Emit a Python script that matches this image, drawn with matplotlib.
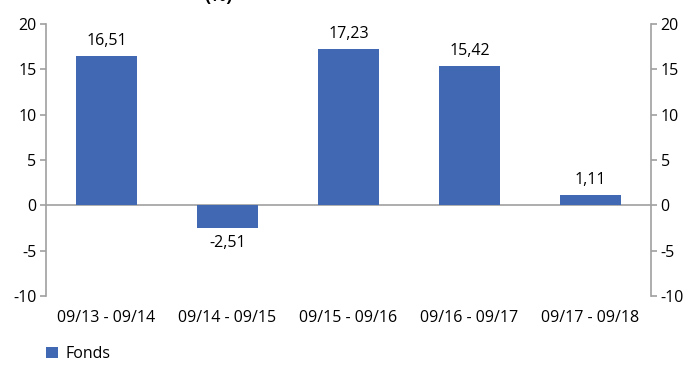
import numpy as np
import matplotlib.pyplot as plt

periods = ["09/13 - 09/14", "09/14 - 09/15", "09/15 - 09/16", "09/16 - 09/17", "09/17 - 09/18"]
fonds = [16.51, -2.51, 17.23, 15.42, 1.11]
yticks = [-10, -5, 0, 5, 10, 15, 20]

plt.rcParams['font.family'] = ['Open Sans', 'DejaVu Sans']
plt.rcParams['axes.unicode_minus'] = False
blue = "#4169b3"
grey = "#a0a0a0"
fs = 11.5

fig = plt.figure(figsize=(6.9, 3.65), dpi=100)
ax = fig.add_axes([0.0667, 0.189, 0.8768, 0.745])

x = np.arange(len(periods))
bars = ax.bar(x, fonds, width=0.5, color=blue, label="Fonds", zorder=3)
ax.axhline(0, color=grey, lw=1.2, zorder=2)

for xi, v in zip(x, fonds):
    txt = f"{v:.2f}".replace(".", ",")
    off = 5 if v >= 0 else -5
    ax.annotate(txt, (xi, v), xytext=(0, off), textcoords="offset points",
                ha="center", va="bottom" if v >= 0 else "top", fontsize=fs)

ax.set_xlim(-0.5, len(periods) - 0.5)
ax.set_ylim(-10, 20)
ax.set_yticks(yticks)
ax.set_xticks(x)
ax.set_xticklabels(periods, fontsize=fs)

# same scale mirrored on the right
ax2 = ax.twinx()
ax2.set_ylim(ax.get_ylim())
ax2.set_yticks(yticks)

for a in (ax, ax2):
    for s in ("top", "bottom"):
        a.spines[s].set_visible(False)
    a.tick_params(axis="y", colors=grey, labelcolor="black", length=4, width=1.2, labelsize=fs, pad=3)
ax.spines["left"].set_color(grey)
ax.spines["left"].set_linewidth(1.2)
ax.spines["right"].set_visible(False)
ax2.spines["left"].set_visible(False)
ax2.spines["right"].set_color(grey)
ax2.spines["right"].set_linewidth(1.2)
ax.tick_params(axis="x", length=0, pad=10)

fig.legend(handles=[bars], labels=["Fonds"], loc="center left", bbox_to_anchor=(0.055, 0.03),
           frameon=False, fontsize=fs, handlelength=0.75, handleheight=0.75, handletextpad=0.5,
           borderpad=0)

# title sits above the top edge, only its lower part shows
fig.text(0.316, 1.012, "(%)", ha="center", va="center", fontsize=13, weight="bold")

fig.savefig("out.png", dpi=100)
